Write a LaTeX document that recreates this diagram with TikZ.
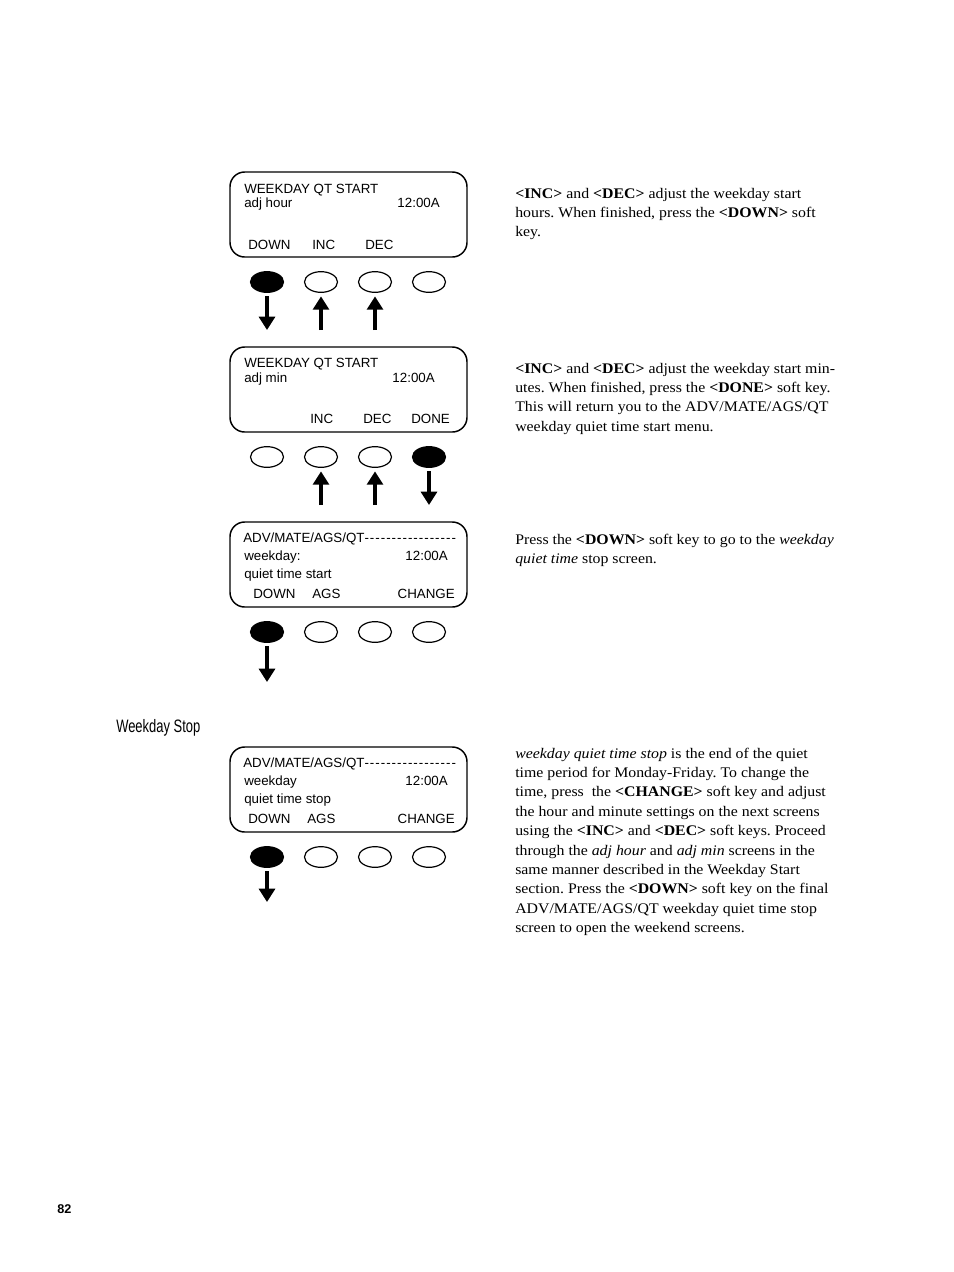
\documentclass[tikz,border=0pt]{standalone}
\usepackage{fontspec}
\setmainfont[FakeStretch=1.08]{Liberation Serif}
\newfontfamily\lcdfont[Ligatures=TeXOff]{Liberation Sans}
\newfontfamily\headfont[FakeStretch=0.72]{Liberation Sans}
\newfontfamily\pagefont{Liberation Sans}
\usetikzlibrary{shapes.geometric,arrows.meta}
\frenchspacing
\newcommand{\lcddashes}{{\addfontfeature{LetterSpace=7.5}-----------------}}
\begin{document}
\begin{tikzpicture}[x=0.75pt,y=-0.75pt,
  lcdbox/.style={draw, line width=1.1pt, rounded corners=11pt, rectangle,
    minimum width=177.75pt, minimum height=63.75pt, inner sep=0pt},
  softkey/.style={ellipse, draw, line width=0.9pt, minimum width=24.75pt,
    minimum height=15.5pt, inner sep=0pt},
  keyon/.style={softkey, fill=black},
  lcd/.style={font=\lcdfont\fontsize{10}{12}\selectfont, inner sep=0pt, anchor=base west},
  lcdr/.style={lcd, anchor=base east},
  pushdn/.style={-{Triangle[width=12pt,length=10pt]}, line width=2.3pt, shorten <=2.4pt},
  pushup/.style={-{Triangle[width=12pt,length=10pt]}, line width=2.3pt, shorten >=2.6pt},
  para/.style={font=\fontsize{11}{14.55}\selectfont, inner sep=0pt, anchor=base west, align=left}
]
\useasboundingbox (0,0) rectangle (954,1272);

% ---------- Display 1 ----------
\node[lcdbox] (d1) at (348.5,214.5) {};
\node[lcd] (d1a) at (244,193) {WEEKDAY QT START};
\node[lcd] (d1b) at (244,207) {adj hour};
\node[lcdr] (d1c) at (440,207) {12:00A};
\node[lcd] (d1k1) at (248,249) {DOWN};
\node[lcd] (d1k2) at (312,249) {INC};
\node[lcd] (d1k3) at (365,249) {DEC};
\node[keyon] (b11) at (267,282) {};
\node[softkey] (b12) at (321,282) {};
\node[softkey] (b13) at (375,282) {};
\node[softkey] (b14) at (429,282) {};
\coordinate (e11) at (267,330);
\coordinate (e12) at (321,330);
\coordinate (e13) at (375,330);
\draw[pushdn] (b11) -- (e11);
\draw[pushup] (e12) -- (b12);
\draw[pushup] (e13) -- (b13);

% ---------- Display 2 ----------
\node[lcdbox] (d2) at (348.5,389.5) {};
\node[lcd] (d2a) at (244,367) {WEEKDAY QT START};
\node[lcd] (d2b) at (244,382) {adj min};
\node[lcdr] (d2c) at (435,382) {12:00A};
\node[lcd] (d2k2) at (310,423) {INC};
\node[lcd] (d2k3) at (363,423) {DEC};
\node[lcd] (d2k4) at (411,423) {DONE};
\node[softkey] (b21) at (267,457) {};
\node[softkey] (b22) at (321,457) {};
\node[softkey] (b23) at (375,457) {};
\node[keyon] (b24) at (429,457) {};
\coordinate (e22) at (321,505);
\coordinate (e23) at (375,505);
\coordinate (e24) at (429,505);
\draw[pushup] (e22) -- (b22);
\draw[pushup] (e23) -- (b23);
\draw[pushdn] (b24) -- (e24);

% ---------- Display 3 ----------
\node[lcdbox] (d3) at (348.5,564.5) {};
\node[lcd] (d3a) at (243,542) {ADV/MATE/AGS/QT\lcddashes};
\node[lcd] (d3b) at (244,560) {weekday:};
\node[lcdr] (d3c) at (448,560) {12:00A};
\node[lcd] (d3d) at (244,578) {quiet time start};
\node[lcd] (d3k1) at (253,598) {DOWN};
\node[lcd] (d3k2) at (312,598) {AGS};
\node[lcdr] (d3k4) at (455,598) {CHANGE};
\node[keyon] (b31) at (267,632) {};
\node[softkey] (b32) at (321,632) {};
\node[softkey] (b33) at (375,632) {};
\node[softkey] (b34) at (429,632) {};
\coordinate (e31) at (267,682);
\draw[pushdn] (b31) -- (e31);

% ---------- Heading ----------
\node[inner sep=0pt, anchor=base west, font=\headfont\fontsize{13.5}{16}\selectfont] (hd) at (116,732) {Weekday Stop};

% ---------- Display 4 ----------
\node[lcdbox] (d4) at (348.5,789.5) {};
\node[lcd] (d4a) at (243,767) {ADV/MATE/AGS/QT\lcddashes};
\node[lcd] (d4b) at (244,785) {weekday};
\node[lcdr] (d4c) at (448,785) {12:00A};
\node[lcd] (d4d) at (244,803) {quiet time stop};
\node[lcd] (d4k1) at (248,823) {DOWN};
\node[lcd] (d4k2) at (307,823) {AGS};
\node[lcdr] (d4k4) at (455,823) {CHANGE};
\node[keyon] (b41) at (267,857) {};
\node[softkey] (b42) at (321,857) {};
\node[softkey] (b43) at (375,857) {};
\node[softkey] (b44) at (429,857) {};
\coordinate (e41) at (267,902);
\draw[pushdn] (b41) -- (e41);

% ---------- Right-hand text (anchored at the baseline of the last line) ----------
\node[para] (t1) at (515,236.8) {\textbf{<INC>} and \textbf{<DEC>} adjust the weekday start\\
hours. When finished, press the \textbf{<DOWN>} soft\\
key.};
\node[para] (t2) at (515,431.2) {\textbf{<INC>} and \textbf{<DEC>} adjust the weekday start min-\\
utes. When finished, press the \textbf{<DONE>} soft key.\\
This will return you to the ADV/MATE/AGS/QT\\
weekday quiet time start menu.};
\node[para] (t3) at (515,563.4) {Press the \textbf{<DOWN>} soft key to go to the \textit{weekday}\\
\textit{quiet time} stop screen.};
\node[para] (t4) at (515,932.6) {\textit{weekday quiet time stop} is the end of the quiet\\
time period for Monday-Friday. To change the\\
time, press \ the \textbf{<CHANGE>} soft key and adjust\\
the hour and minute settings on the next screens\\
using the \textbf{<INC>} and \textbf{<DEC>} soft keys. Proceed\\
through the \textit{adj hour} and \textit{adj min} screens in the\\
same manner described in the Weekday Start\\
section. Press the \textbf{<DOWN>} soft key on the final\\
ADV/MATE/AGS/QT weekday quiet time stop\\
screen to open the weekend screens.};

% ---------- Page number ----------
\node[inner sep=0pt, anchor=base west, font=\pagefont\bfseries\fontsize{9.5}{11}\selectfont] (pg) at (57,1213) {82};
\end{tikzpicture}
\end{document}
